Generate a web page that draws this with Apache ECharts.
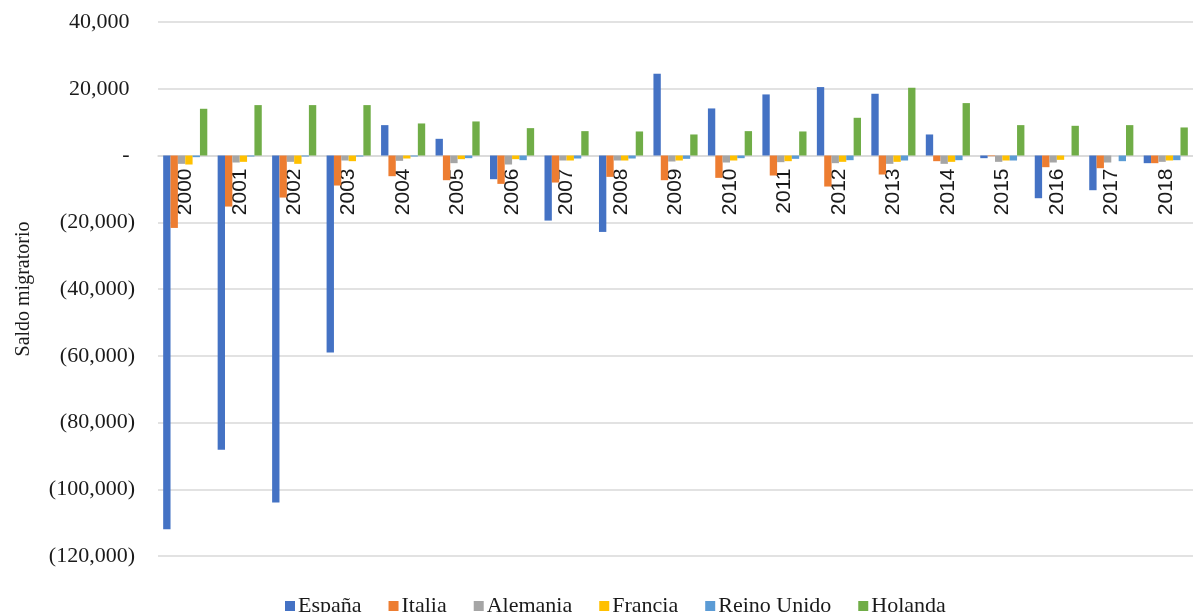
<!DOCTYPE html>
<html>
<head>
<meta charset="utf-8">
<script src="https://cdn.jsdelivr.net/npm/echarts@6/dist/echarts.min.js"></script>
<style>
  html, body { margin: 0; padding: 0; background: #fff; }
  #chart { width: 1193px; height: 612px; }
</style>
</head>
<body>
<div id="chart"></div>
<script>
const years = ['2000','2001','2002','2003','2004','2005','2006','2007','2008','2009','2010','2011','2012','2013','2014','2015','2016','2017','2018'];
const espana = [-112000, -88200, -104000, -59000, 9100, 5000, -7100, -19500, -22900, 24500, 14100, 18300, 20500, 18500, 6300, -800, -12800, -10400, -2300];
const italia = [-21700, -15300, -12600, -9000, -6200, -7400, -8500, -8100, -6400, -7400, -6700, -6000, -9300, -5700, -1700, -200, -3500, -3800, -2300];
const alemania = [-2500, -2100, -1900, -1500, -1600, -2300, -2700, -1500, -1500, -1800, -2100, -2000, -2300, -2500, -2500, -1900, -2100, -2100, -1900];
const francia = [-2700, -1900, -2500, -1700, -900, -1100, -1100, -1500, -1500, -1500, -1500, -1700, -1900, -1900, -1900, -1500, -1300, 0, -1500];
const reinoUnido = [-500, -300, -300, -300, -300, -800, -1400, -900, -900, -1000, -800, -1000, -1400, -1500, -1400, -1500, 0, -1700, -1400];
const holanda = [14000, 15100, 15100, 15100, 9600, 10200, 8200, 7300, 7200, 6300, 7300, 7200, 11300, 20300, 15700, 9100, 8900, 9100, 8400];

const seriesNames = ['España', 'Italia', 'Alemania', 'Francia', 'Reino Unido', 'Holanda'];
const seriesData = [espana, italia, alemania, francia, reinoUnido, holanda];
const colors = ['#4472C4', '#ED7D31', '#A5A5A5', '#FFC000', '#5B9BD5', '#70AD47'];

const yMin = -120000, yMax = 40000;
const gridTop = 22, gridBottom = 56, H = 612;

function fmt(v) {
  if (v === 0) return '- ';
  const s = Math.abs(v).toLocaleString('en-US');
  return v < 0 ? '(' + s + ')' : s + ' ';
}

const plotH = H - gridTop - gridBottom;
const zeroOffset = -plotH * (0 - yMin) / (yMax - yMin);

const chart = echarts.init(document.getElementById('chart'), null, { renderer: 'canvas' });
chart.setOption({
  animation: false,
  color: colors,
  grid: { left: 158, right: 0, top: gridTop, bottom: gridBottom, containLabel: false },
  legend: {
    data: seriesNames,
    top: 590,
    left: 280,
    itemWidth: 10,
    itemHeight: 10,
    itemGap: 27,
    icon: 'rect',
    textStyle: { fontFamily: 'Liberation Serif', fontSize: 22, color: '#1a1a1a', padding: [0, 0, 0, -2] }
  },
  xAxis: {
    type: 'category',
    data: years,
    position: 'bottom',
    offset: zeroOffset,
    axisLine: { onZero: false, lineStyle: { color: '#d9d9d9', width: 1.5 } },
    axisTick: { show: false },
    axisLabel: {
      rotate: 90,
      margin: 13,
      fontFamily: 'Liberation Sans',
      fontSize: 21,
      color: '#1a1a1a'
    },
    splitLine: { show: false }
  },
  yAxis: {
    type: 'value',
    min: yMin,
    max: yMax,
    interval: 20000,
    name: 'Saldo migratorio',
    nameLocation: 'middle',
    nameGap: 124,
    nameTextStyle: { fontFamily: 'Liberation Serif', fontSize: 20, color: '#1a1a1a' },
    axisLine: { show: false },
    axisTick: { show: false },
    axisLabel: {
      margin: 23,
      fontFamily: 'Liberation Serif',
      fontSize: 22,
      color: '#1a1a1a',
      formatter: fmt
    },
    splitLine: { lineStyle: { color: '#d9d9d9', width: 1.5 } }
  },
  series: seriesNames.map((n, i) => ({
    name: n,
    type: 'bar',
    data: seriesData[i],
    barGap: '0%',
    barCategoryGap: '19%',
    itemStyle: { color: colors[i] }
  }))
});
</script>
</body>
</html>
